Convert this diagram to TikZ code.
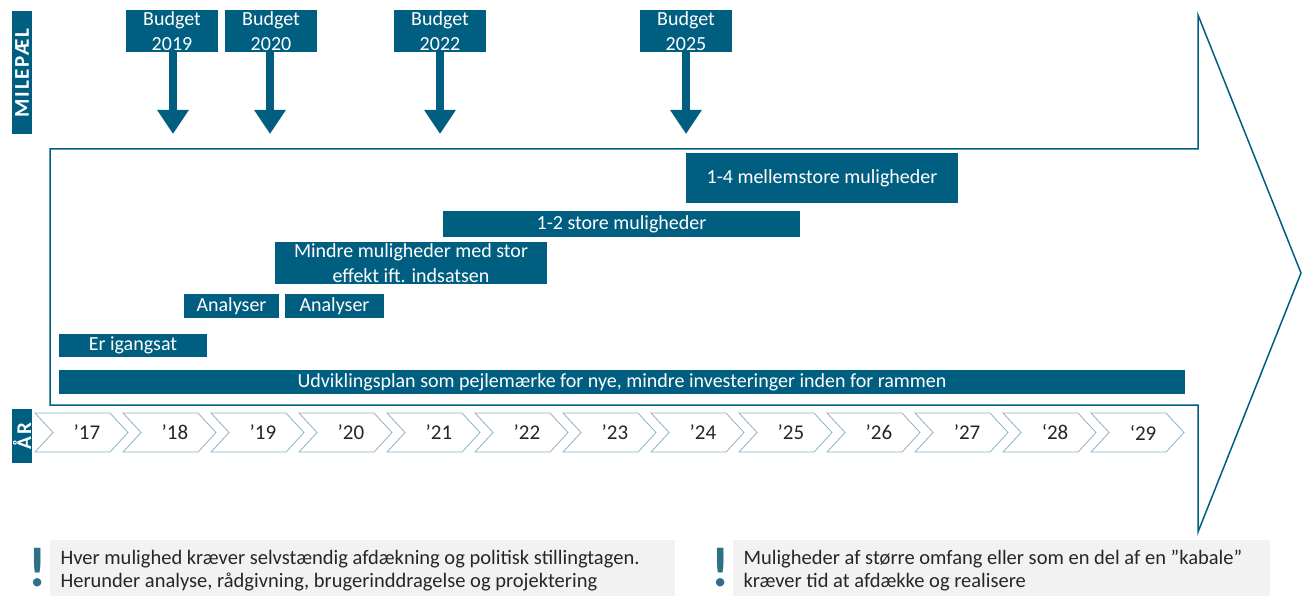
\documentclass[tikz,border=0pt]{standalone}
\usepackage{fontspec}
\setmainfont{Carlito}
\usetikzlibrary{arrows.meta}
\definecolor{tealdark}{HTML}{005F80}
\definecolor{chevline}{HTML}{8AB2C6}
\definecolor{notegray}{HTML}{F2F2F2}
\definecolor{bangcol}{HTML}{2E7088}
\definecolor{yeartext}{HTML}{262626}

\tikzset{
  bar/.style={fill=tealdark,text=white,inner sep=0pt,align=center,
    font=\fontsize{20}{25}\selectfont},
  budgetbox/.style={bar,minimum width=92,minimum height=42,
    font=\fontsize{20}{25}\selectfont},
  sidebox/.style={fill=tealdark,text=white,inner sep=0pt,rotate=90,
    minimum height=20,font=\bfseries\fontsize{21}{21}\selectfont\addfontfeature{LetterSpace=8}},
  milearrow/.style={draw=tealdark,line width=8,
    -{Triangle[width=30,length=24]}},
  chevron/.style={draw=chevline,fill=white,line width=0.8},
  notebox/.style={fill=notegray,inner sep=0pt,anchor=north west},
  notetext/.style={anchor=west,align=left,text=black!85,
    font=\fontsize{20.5}{23}\selectfont},
  bang/.style={text=bangcol,inner sep=0pt,anchor=base,
    font=\bfseries\fontsize{56}{56}\selectfont}
}

\begin{document}
\begin{tikzpicture}[x=1pt,y=-1pt]
  \useasboundingbox (0,0) rectangle (1303,596);
  % big arrow
  \draw[tealdark,line width=1.5] (50,149) -- (1198,149) -- (1198,15)
    -- (1301,273) -- (1198,532) -- (1198,405) -- (50,405) -- cycle;
  % side labels
  \node[sidebox,minimum width=123] (milepael) at (22,73) {MILEPÆL};
  \node[sidebox,minimum width=54] (aar) at (22,436) {ÅR};
  % milestones
  \node[budgetbox] (b2019) at (172,31) {Budget\\2019};
  \node[budgetbox] (b2020) at (271,31) {Budget\\2020};
  \node[budgetbox] (b2022) at (440,31) {Budget\\2022};
  \node[budgetbox] (b2025) at (686,31) {Budget\\2025};
  \coordinate (t2019) at (173,134);
  \coordinate (t2020) at (270,134);
  \coordinate (t2022) at (440,134);
  \coordinate (t2025) at (686,134);
  \draw[milearrow] (b2019.south -| t2019) -- (t2019);
  \draw[milearrow] (b2020.south -| t2020) -- (t2020);
  \draw[milearrow] (b2022.south -| t2022) -- (t2022);
  \draw[milearrow] (b2025.south -| t2025) -- (t2025);
  % bars
  \node[bar,minimum width=272,minimum height=50] (mellem) at (822,178) {1-4 mellemstore muligheder};
  \node[bar,minimum width=357,minimum height=26] (store) at (621.5,224) {1-2 store muligheder};
  \node[bar,minimum width=272,minimum height=42] (mindre) at (411,263) {Mindre muligheder med stor\\effekt ift. indsatsen};
  \node[bar,minimum width=95,minimum height=24] (analyse1) at (231.5,306) {Analyser};
  \node[bar,minimum width=99,minimum height=24] (analyse2) at (334.5,306) {Analyser};
  \node[bar,minimum width=148,minimum height=23] (igang) at (133,345.5) {Er igangsat};
  \node[bar,minimum width=1126,minimum height=24] (udvikling) at (622,382) {Udviklingsplan som pejlemærke for nye, mindre investeringer inden for rammen};
  % years
  \foreach \yr/\lbl [count=\i from 0] in {17/’17,18/’18,19/’19,20/’20,21/’21,22/’22,23/’23,24/’24,25/’25,26/’26,27/’27,28/‘28,29/‘29} {
    \pgfmathsetmacro\xa{35+88*\i}
    \draw[chevron] (\xa,413) -- (\xa+75,413) -- (\xa+93,432.5) -- (\xa+75,452)
      -- (\xa,452) -- (\xa+18,432.5) -- cycle;
    \node[text=yeartext,font=\fontsize{21}{21}\selectfont] (y\yr) at (\xa+52,432.5) {\lbl};
  }
  % notes
  \node[notebox,minimum width=625,minimum height=56] (note1) at (50,540) {};
  \node[notebox,minimum width=537,minimum height=56] (note2) at (733,540) {};
  \node[notetext] (text1) at (57,571) {Hver mulighed kræver selvstændig afdækning og politisk stillingtagen.\\Herunder analyse, rådgivning, brugerinddragelse og projektering};
  \node[notetext] (text2) at (740,571) {Muligheder af større omfang eller som en del af en ”kabale”\\kræver tid at afdække og realisere};
  \node[bang] (bang1) at (38,586) {!};
  \node[bang] (bang2) at (721,586) {!};
\end{tikzpicture}
\end{document}
